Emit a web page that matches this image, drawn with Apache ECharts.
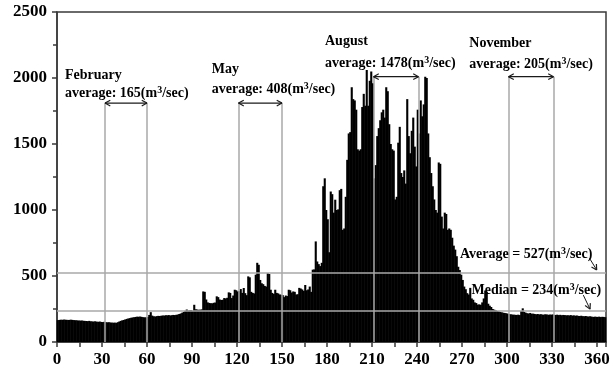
<!DOCTYPE html>
<html>
<head>
<meta charset="utf-8">
<script src="https://cdn.jsdelivr.net/npm/echarts@6/dist/echarts.min.js"></script>
<style>
  html, body { margin: 0; padding: 0; background: #fff; }
  #chart { width: 616px; height: 373px; }
</style>
</head>
<body>
<div id="chart"></div>
<script>
// Daily mean discharge (m3/sec), day 0 .. 365
const dailyFlow = [
  166,167,169,168,170,169,168,167,168,169,
  167,166,165,164,163,162,163,161,160,159,
  158,160,157,156,155,157,154,153,155,152,
  151,153,150,149,150,148,147,146,147,145,
  150,155,160,164,167,171,175,178,181,184,
  186,188,190,192,191,193,190,188,187,186,
  189,205,226,200,195,193,196,198,197,199,
  201,200,203,202,204,201,203,205,204,206,
  208,212,216,222,228,236,246,238,240,241,
  236,282,248,246,244,245,247,383,380,322,
  300,296,294,293,297,299,346,340,322,318,
  320,333,330,335,376,372,333,352,396,392,
  383,385,401,372,409,370,355,497,490,380,
  372,368,510,600,585,470,445,438,425,420,
  522,515,396,372,365,396,372,368,360,358,
  355,340,352,348,396,392,375,383,380,360,
  362,410,405,398,388,432,392,398,420,380,
  548,550,762,610,590,575,600,1180,1240,1000,
  930,680,1140,1120,980,1078,1000,1005,1150,1160,
  850,860,1100,1380,1580,1590,1930,1840,1830,1760,
  1460,1450,1460,1780,1880,1790,2060,1790,1980,2050,
  1960,1240,1340,1560,1620,1680,1740,1760,1700,1930,
  1900,1650,1500,1460,1450,1080,1100,1510,1630,1280,
  1250,1300,1200,1840,1560,1430,1600,1700,1480,1330,
  1760,1580,1830,1710,1800,2010,2000,1580,1400,1280,
  1180,1080,1000,980,1360,1350,950,860,980,970,
  850,860,850,790,730,700,650,570,545,510,
  470,420,400,370,360,410,330,320,300,295,
  283,285,282,300,330,390,380,290,275,265,
  250,245,240,235,232,228,225,222,220,218,
  215,212,210,208,207,206,205,207,204,235,
  255,228,222,218,216,220,214,215,212,210,
  212,209,211,208,207,210,209,206,208,207,
  209,206,205,207,204,206,203,205,204,202,
  203,201,204,200,202,199,201,198,197,199,
  196,195,197,194,193,195,192,190,192,191,
  190,192,189,191,190,188
];

// Highlighted months: first and last day of each bracket, and their mean flow
const monthNames   = ['February', 'May', 'August', 'November'];
const monthAverage = [165, 408, 1478, 205];
const monthStart   = [32, 121, 211, 301];
const monthEnd     = [60, 150, 241, 331];

// Whole-year statistics
const annualAverage = 527;
const annualMedian  = 234;

// Axis scales
const dayMax = 366;
const dayStep = 30;
const flowMax = 2500;
const flowStep = 500;

const FONT = '"Liberation Serif", "Times New Roman", serif';
const AXIS = '#3a3a3a';
const GRAY = '#a8a8a8';

// each day occupies the interval [day, day+1]
const flowBars = dailyFlow.map((v, i) => [i, v]);

// height (in flow units) of the bracket arrows over each month
const bracketLevel = [1810, 1810, 2010, 2010];

const guideLines = [];
monthStart.forEach((s, k) => {
  [s, monthEnd[k]].forEach(d => {
    guideLines.push([{ coord: [d, 0] }, { coord: [d, bracketLevel[k]] }]);
  });
});
guideLines.push({ yAxis: annualAverage });
guideLines.push({ yAxis: annualMedian });

const chart = echarts.init(document.getElementById('chart'), null, { renderer: 'canvas' });

const axisLabelStyle = {
  color: '#000', fontFamily: FONT, fontWeight: 'bold', fontSize: 17,
  formatter: v => String(v)
};

// one filled column per day, slightly widened so neighbours overlap without seams
function renderDay(params, api) {
  const day = api.value(0);
  const p0 = api.coord([day, api.value(1)]);
  const p1 = api.coord([day + 1, 0]);
  return {
    type: 'rect',
    shape: { x: p0[0] - 0.3, y: p0[1], width: p1[0] - p0[0] + 0.6, height: p1[1] - p0[1] },
    style: { fill: '#000' }
  };
}

chart.setOption({
  animation: false,
  grid: {
    left: 57, right: 10, top: 12, bottom: 31,
    show: true, borderColor: AXIS, borderWidth: 1.5, backgroundColor: 'transparent'
  },
  xAxis: {
    type: 'value', min: 0, max: dayMax, interval: dayStep,
    axisLine: { lineStyle: { color: AXIS, width: 1.5 } },
    axisTick: { length: 5, lineStyle: { color: AXIS, width: 1.5 } },
    minorTick: { show: true, splitNumber: 2, length: 5, lineStyle: { color: AXIS, width: 1.5 } },
    splitLine: { show: false },
    axisLabel: Object.assign({ margin: 9, showMaxLabel: false }, axisLabelStyle)
  },
  yAxis: {
    type: 'value', min: 0, max: flowMax, interval: flowStep,
    axisLine: { lineStyle: { color: AXIS, width: 1.5 } },
    axisTick: { length: 5, lineStyle: { color: AXIS, width: 1.5 } },
    minorTick: { show: true, splitNumber: 2, length: 4, lineStyle: { color: AXIS, width: 1.5 } },
    splitLine: { show: false },
    axisLabel: Object.assign({ margin: 10 }, axisLabelStyle)
  },
  series: [{
    type: 'custom',
    data: flowBars,
    renderItem: renderDay,
    encode: { x: 0, y: 1 },
    silent: true,
    markLine: {
      silent: true,
      symbol: 'none',
      label: { show: false },
      lineStyle: { color: GRAY, width: 1.5, type: 'solid' },
      data: guideLines
    }
  }]
});

// ---- annotations ----
const px = (x, y) => chart.convertToPixel({ gridIndex: 0 }, [x, y]);

const tokenStyle = {
  t: { fontFamily: FONT, fontWeight: 'bold', fontSize: 14, lineHeight: 16, fill: '#000' },
  s: { fontFamily: FONT, fontWeight: 'bold', fontSize: 10, lineHeight: 11, fill: '#000', verticalAlign: 'top' }
};
function label(text, x, y) {
  return { type: 'text', z: 100, style: { text, x, y, verticalAlign: 'top', rich: tokenStyle } };
}
const unit = v => `{t|${v}(m}{s|3}{t|/sec)}`;

function seg(x1, y1, x2, y2, w) {
  return { type: 'line', z: 100, shape: { x1, y1, x2, y2 }, style: { stroke: '#1a1a1a', lineWidth: w || 1.2 } };
}
function head(tx, ty, ang) {
  const L = 6, a = 0.5;
  return [
    seg(tx, ty, tx - L * Math.cos(ang - a), ty - L * Math.sin(ang - a)),
    seg(tx, ty, tx - L * Math.cos(ang + a), ty - L * Math.sin(ang + a))
  ];
}

const gfx = [];

// month name / average positions (top of text line)
const textPos = [
  { x: 65,  name: 67.3, avg: 85.6 },
  { x: 211.7, name: 61.3, avg: 81.3 },
  { x: 325, name: 33.6, avg: 55.6 },
  { x: 469.3, name: 35.5, avg: 56.3 }
];

monthNames.forEach((m, k) => {
  const p = textPos[k];
  gfx.push(label(`{t|${m}}`, p.x, p.name));
  gfx.push(label(`{t|average: }` + unit(monthAverage[k]), p.x, p.avg));
  const a = px(monthStart[k], bracketLevel[k]);
  const b = px(monthEnd[k], bracketLevel[k]);
  gfx.push(seg(a[0], a[1], b[0], b[1]));
  gfx.push(...head(a[0], a[1], Math.PI));
  gfx.push(...head(b[0], b[1], 0));
});

gfx.push(label(`{t|Average = }` + unit(annualAverage), 460, 246.3));
gfx.push(label(`{t|Median = }` + unit(annualMedian), 471.5, 282.3));

// small pointers from the statistics labels to their lines
const avgY = px(0, annualAverage)[1];
const medY = px(0, annualMedian)[1];
[[589.3, avgY - 14.5, 596.7, avgY - 2.5], [583.3, medY - 16, 590, medY - 2]].forEach(([x1, y1, x2, y2]) => {
  gfx.push(seg(x1, y1, x2, y2, 1));
  gfx.push(...head(x2, y2, Math.atan2(y2 - y1, x2 - x1)));
});

chart.setOption({ graphic: { elements: gfx } });
</script>
</body>
</html>
